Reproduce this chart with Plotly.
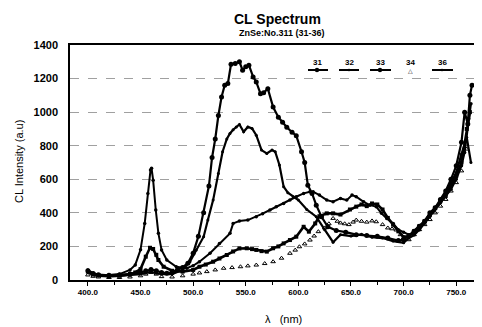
import plotly.graph_objects as go

# ---------------- data ----------------
series_names = ["31", "32", "33", "34", "36"]

wl_31 = [400, 405, 410, 420, 430, 440, 450, 455, 460, 465, 470, 475, 480, 485, 490, 495,
         500, 505, 510, 515, 518, 521, 524, 527, 530, 533, 536, 540, 544, 547, 550, 553,
         557, 560, 564, 567, 571, 576, 581, 585, 589, 594, 598, 603, 606, 609, 613, 617,
         622, 628, 636, 645, 655, 665, 675, 685, 695, 700, 705, 710, 715, 720, 725, 730,
         735, 740, 745, 750, 755, 758, 761, 763, 765]
int_31 = [55, 38, 32, 28, 30, 35, 45, 55, 62, 55, 45, 40, 45, 60, 75, 100,
          160, 260, 400, 560, 730, 840, 980, 1090, 1160, 1170, 1285, 1290, 1300, 1250, 1270, 1280,
          1210, 1180, 1110, 1115, 1140, 1030, 970, 940, 910, 880, 860, 764, 700, 565, 516, 446,
          377, 317, 295, 285, 270, 265, 260, 250, 235, 240, 262, 290, 320, 350, 400, 430,
          480, 530, 600, 680, 820, 1000, 930, 1100, 1160]

wl_32 = [400, 405, 410, 420, 430, 440, 450, 455, 460, 465, 470, 480, 490, 497, 503, 510,
         514, 519, 524, 528, 532, 535, 538, 541, 544, 548, 552, 556, 560, 565, 570, 575,
         578, 582, 586, 590, 595, 600, 608, 617, 625, 633, 640, 650, 660, 670, 680, 690,
         700, 705, 710, 715, 720, 725, 730, 735, 740, 745, 750, 755, 760, 764]
int_32 = [45, 30, 25, 22, 25, 28, 35, 42, 48, 40, 35, 35, 60, 109, 179, 258,
          357, 476, 635, 764, 840, 873, 895, 912, 927, 883, 912, 903, 863, 774, 754, 774,
          764, 685, 556, 520, 496, 476, 420, 377, 300, 225, 270, 262, 272, 255, 250, 232,
          222, 250, 268, 300, 340, 380, 420, 470, 520, 580, 640, 750, 850, 700]

wl_33 = [400, 405, 410, 420, 430, 440, 445, 450, 455, 459, 462, 465, 467, 472, 480, 490,
         500, 506, 512, 519, 525, 532, 538, 544, 551, 556, 560, 565, 570, 576, 581, 586,
         592, 598, 605, 610, 616, 620, 627, 633, 640, 649, 655, 660, 665, 670, 675, 680,
         685, 690, 695, 700, 705, 710, 715, 720, 725, 730, 735, 740, 745, 750, 755, 760, 763]
int_33 = [50, 35, 28, 24, 26, 35, 45, 65, 139, 192, 185, 150, 119, 79, 55, 50,
          60, 79, 92, 109, 128, 149, 170, 188, 189, 184, 179, 172, 169, 189, 200, 218,
          238, 258, 317, 288, 337, 380, 397, 397, 390, 420, 437, 450, 440, 456, 450, 420,
          370, 330, 290, 255, 262, 290, 320, 350, 395, 430, 470, 500, 560, 620, 700, 900, 1000]

wl_34 = [400, 405, 410, 420, 430, 440, 450, 455, 460, 465, 470, 480, 490, 500, 506, 513,
         521, 529, 537, 545, 552, 560, 568, 576, 584, 592, 597, 601, 606, 611, 615, 619,
         625, 629, 633, 637, 640, 644, 648, 652, 655, 660, 665, 670, 674, 680, 685, 689,
         693, 697, 700, 705, 710, 715, 720, 725, 730, 735, 740, 745, 750, 755, 760]
int_34 = [30, 22, 18, 15, 15, 18, 25, 35, 45, 35, 20, 18, 25, 35, 42, 50,
          60, 70, 74, 79, 84, 89, 98, 109, 130, 159, 178, 198, 215, 238, 262, 288,
          310, 335, 367, 350, 340, 335, 330, 345, 357, 350, 345, 352, 347, 330, 310, 305,
          298, 270, 250, 240, 270, 300, 330, 360, 400, 440, 480, 530, 580, 650, 780]

wl_36 = [400, 405, 410, 420, 430, 440, 445, 450, 454, 457, 459.5, 460.5, 462, 464.5, 467,
         470, 475, 484, 494, 500, 506, 516, 525, 535, 538, 544, 552, 560, 566, 573, 579,
         586, 592, 598, 605, 611, 614, 620, 627, 633, 640, 646, 651, 655, 662, 668, 674,
         679, 684, 690, 695, 700, 705, 709, 715, 720, 725, 730, 735, 740, 745, 750, 755,
         758, 762, 764]
int_36 = [60, 40, 32, 30, 35, 60, 90, 180, 337, 516, 655, 665, 595, 417, 278,
          179, 119, 79, 70, 85, 109, 159, 218, 278, 337, 351, 357, 377, 395, 417, 437,
          456, 476, 496, 516, 526, 526, 506, 476, 466, 486, 476, 506, 496, 466, 446, 437,
          397, 367, 337, 300, 285, 270, 278, 300, 340, 380, 430, 460, 500, 540, 600, 680,
          760, 960, 1050]

y_ticks = [0, 200, 400, 600, 800, 1000, 1200, 1400]
x_ticks = [400, 450, 500, 550, 600, 650, 700, 750]
x_tick_labels = ["400.0", "450.0", "500.0", "550.0", "600.0", "650.0", "700.0", "750.0"]

# ---------------- figure ----------------
fig = go.Figure()

fig.add_trace(go.Scatter(x=wl_31, y=int_31, name=series_names[0], mode="lines+markers",
                         line=dict(color="black", width=2.2),
                         marker=dict(symbol="circle", size=5, color="black")))
fig.add_trace(go.Scatter(x=wl_32, y=int_32, name=series_names[1], mode="lines+markers",
                         line=dict(color="black", width=2.2),
                         marker=dict(symbol="circle", size=3, color="black")))
fig.add_trace(go.Scatter(x=wl_33, y=int_33, name=series_names[2], mode="lines+markers",
                         line=dict(color="black", width=2.6),
                         marker=dict(symbol="square", size=4, color="black")))
fig.add_trace(go.Scatter(x=wl_34, y=int_34, name=series_names[3], mode="markers",
                         marker=dict(symbol="triangle-up-open", size=4, color="black",
                                     line=dict(width=1, color="black"))))
fig.add_trace(go.Scatter(x=wl_36, y=int_36, name=series_names[4], mode="lines+markers",
                         line=dict(color="black", width=2),
                         marker=dict(symbol="circle", size=3.5, color="black")))

fig.update_traces(showlegend=False)

FONT = "Liberation Sans"

# The page body has an 8px margin, so the figure starts at (8, 8) in the window.
OFF = 8
W, H = 482 - OFF, 327 - OFF
# desired plot area in window pixels: x 70..482, y 45..280
L, R, T, B = 70 - OFF, 0, 45 - OFF, 327 - 280
pw, ph = W - L - R, H - T - B


def px_to_paper(px, py):
    # px, py in window pixels
    return (px - OFF - L) / pw, (H - B - (py - OFF)) / ph


# custom legend (labels above the symbol sample, as in the reference)
legend_items = [("31", 317, 308, 328, "big"), ("32", 349, 339, 359, "small"),
                ("33", 380, 370, 391, "big"), ("34", 410, None, None, "tri"),
                ("36", 442, 432, 453, "small")]
for lab, cx, x0, x1, kind in legend_items:
    ax, ay = px_to_paper(cx, 62)
    fig.add_annotation(x=ax, y=ay, xref="paper", yref="paper", text="<b>%s</b>" % lab,
                       showarrow=False, font=dict(family=FONT, size=8, color="black"),
                       xanchor="center", yanchor="middle")
    if x0 is not None:
        p0 = px_to_paper(x0, 70)
        p1 = px_to_paper(x1, 70)
        fig.add_shape(type="line", xref="paper", yref="paper", x0=p0[0], x1=p1[0],
                      y0=p0[1], y1=p1[1], line=dict(color="black", width=2))
        r = 2.2 if kind == "big" else 1.3
        c0 = px_to_paper(cx - r, 70 + r)
        c1 = px_to_paper(cx + r, 70 - r)
        fig.add_shape(type="circle", xref="paper", yref="paper", x0=c0[0], x1=c1[0],
                      y0=c0[1], y1=c1[1], fillcolor="black", line=dict(color="black", width=0))
    else:
        ax2, ay2 = px_to_paper(cx, 70)
        fig.add_annotation(x=ax2, y=ay2, xref="paper", yref="paper", text="\u25b3",
                           showarrow=False, font=dict(family="DejaVu Sans", size=6, color="black"),
                           xanchor="center", yanchor="middle")

# titles
tx, ty = px_to_paper(277, 19)
fig.add_annotation(x=tx, y=ty, xref="paper", yref="paper", text="<b>CL Spectrum</b>",
                   showarrow=False, font=dict(family=FONT, size=14, color="black"),
                   xanchor="center", yanchor="middle")
sx, sy = px_to_paper(282, 33)
fig.add_annotation(x=sx, y=sy, xref="paper", yref="paper", text="<b>ZnSe:No.311 (31-36)</b>",
                   showarrow=False, font=dict(family=FONT, size=9, color="black"),
                   xanchor="center", yanchor="middle")
yx, yy = px_to_paper(19, 162)
fig.add_annotation(x=yx, y=yy, xref="paper", yref="paper", text="CL Intensity (a.u)",
                   showarrow=False, textangle=-90, font=dict(family=FONT, size=11, color="black"),
                   xanchor="center", yanchor="middle")
xx, xy = px_to_paper(283, 319)
fig.add_annotation(x=xx, y=xy, xref="paper", yref="paper", text="\u03bb\u00a0\u00a0\u00a0(nm)",
                   showarrow=False, font=dict(family=FONT, size=11, color="black"),
                   xanchor="center", yanchor="middle")

fig.update_layout(
    width=W, height=H,
    margin=dict(l=L, r=R, t=T, b=B),
    paper_bgcolor="white", plot_bgcolor="white",
    showlegend=False,
    font=dict(family=FONT, color="black"),
)

fig.update_xaxes(
    range=[383, 774.5],
    tickvals=x_ticks, ticktext=["<b>%s</b>" % t for t in x_tick_labels],
    tickfont=dict(family=FONT, size=8, color="black"),
    ticks="outside", ticklen=4, tickwidth=1, tickcolor="black",
    minor=dict(dtick=25, tick0=400, ticks="outside", ticklen=3, tickcolor="black"),
    showgrid=False, zeroline=False,
    showline=True, linecolor="black", linewidth=1.5, mirror=True,
)
fig.update_yaxes(
    range=[0, 1400],
    tickvals=y_ticks, ticktext=["<b>%d</b>" % v for v in y_ticks],
    tickfont=dict(family=FONT, size=11, color="black"),
    ticks="", ticklabelstandoff=8,
    showgrid=True, gridcolor="#a0a0a0", gridwidth=1, griddash="dash",
    zeroline=False,
    showline=True, linecolor="black", linewidth=1.5,
)

fig.write_html("out.html")
